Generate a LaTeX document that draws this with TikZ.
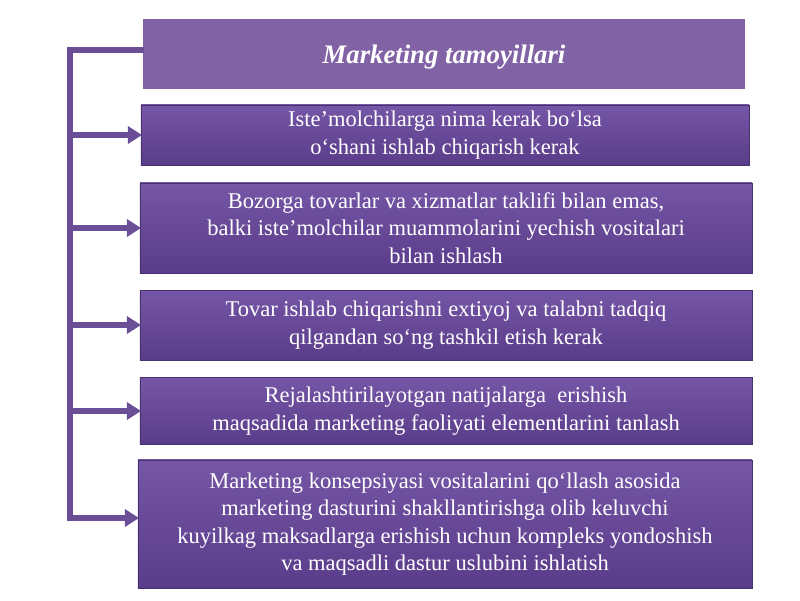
\documentclass[tikz,border=0pt]{standalone}
\usepackage{fontspec}
\setmainfont{Liberation Serif}
\usetikzlibrary{arrows.meta}

\definecolor{boxtop}{HTML}{7656A6}
\definecolor{boxbot}{HTML}{593C8A}
\definecolor{headfill}{HTML}{8163A5}
\definecolor{linkcol}{HTML}{6A4E96}

\tikzset{
  tamoyil/.style={shade, top color=boxtop, bottom color=boxbot, draw=boxbot!80!black,
    text=white, align=center, inner sep=0pt,
    font=\fontsize{16}{19.5}\selectfont},
  header/.style={fill=headfill, draw=white, line width=1.5pt, text=white,
    inner sep=0pt, font=\fontsize{19}{23}\selectfont\bfseries\itshape},
  link/.style={draw=linkcol, line width=4.3pt},
  linkarrow/.style={link, -{Triangle[length=10pt, width=12pt]}, shorten >=-1pt}
}

\begin{document}
\begin{tikzpicture}[x=0.025cm, y=-0.025cm]
  % page frame
  \useasboundingbox (0,0) rectangle (800,600);
  % Header
  \node[header, minimum width=15.1cm, minimum height=1.8cm, text depth=-0.1cm] (head) at (444,54)
    {Marketing tamoyillari};
  % Principle boxes
  \node[tamoyil, minimum width=15.2cm, minimum height=1.5cm] (b1) at (445,135)
    {Iste’molchilarga nima kerak bo‘lsa\\ o‘shani ishlab chiqarish kerak};
  \node[tamoyil, minimum width=15.3cm, minimum height=2.25cm] (b2) at (446,228)
    {Bozorga tovarlar va xizmatlar taklifi bilan emas,\\
     balki iste’molchilar muammolarini yechish vositalari\\ bilan ishlash};
  \node[tamoyil, minimum width=15.3cm, minimum height=1.75cm] (b3) at (446,325)
    {Tovar ishlab chiqarishni extiyoj va talabni tadqiq\\
     qilgandan so‘ng tashkil etish kerak};
  \node[tamoyil, minimum width=15.3cm, minimum height=1.68cm] (b4) at (446,411)
    {Rejalashtirilayotgan natijalarga\ \ erishish\\
     maqsadida marketing faoliyati elementlarini tanlash};
  \node[tamoyil, minimum width=15.35cm, minimum height=3.2cm] (b5) at (445,524)
    {Marketing konsepsiyasi vositalarini qo`llash asosida\\
     marketing dasturini shakllantirishga olib keluvchi\\
     kuyilkag maksadlarga erishish uchun kompleks yondoshish\\
     va maqsadli dastur uslubini ishlatish};
  % Bracket and arrows
  \coordinate (spine) at (70,0);
  \coordinate (last) at ([yshift=0.15cm]b5.west);
  \draw[link, line cap=rect] ([yshift=0.1cm]head.west) -| (spine |- last);
  \foreach \i in {1,...,4}
    \draw[linkarrow] (spine |- b\i.west) -- (b\i.west);
  \draw[linkarrow] (spine |- last) -- (last);
\end{tikzpicture}
\end{document}
